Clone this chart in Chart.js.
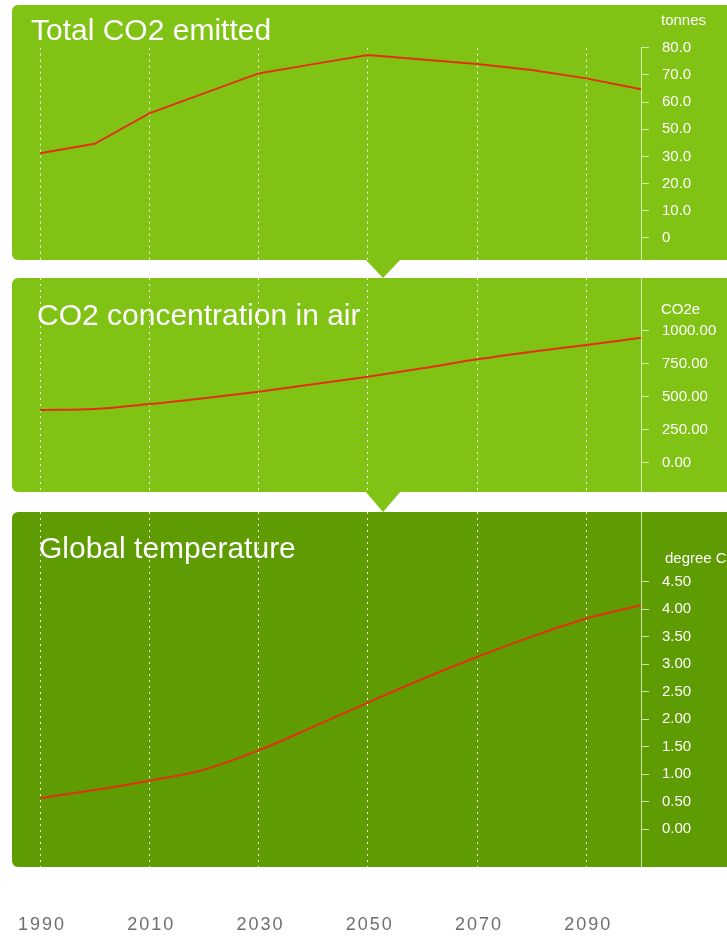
<!DOCTYPE html>
<html>
<head>
<meta charset="utf-8">
<title>CO2 and temperature</title>
<script src="https://cdn.jsdelivr.net/npm/chart.js@4/dist/chart.umd.min.js"></script>
<style>
  html, body { margin: 0; padding: 0; background: #fff; overflow: hidden; }
  #stage { position: relative; width: 727px; height: 936px; overflow: hidden;
           font-family: "Liberation Sans", Arial, Helvetica, sans-serif; }
  .panel { position: absolute; left: 12px; width: 760px; border-radius: 6px; }
  .light { background: #81c315; }
  .dark  { background: #5f9b03; }
  .tip   { position: absolute; left: 365px; width: 36px;
           clip-path: polygon(0 0, 100% 0, 50% 100%); }
  .title { position: absolute; color: #fff; font-size: 30px; line-height: 30px; white-space: nowrap; }
  .unit  { position: absolute; color: #fff; font-size: 15px; line-height: 15px; white-space: nowrap; }
  .box   { position: absolute; left: 0; width: 727px; }
  .box canvas { display: block; }
</style>
</head>
<body>
<div id="stage">
  <div class="panel light" style="top:5px;height:255px"></div>
  <div class="tip light" style="top:259px;height:19px"></div>
  <div class="panel light" style="top:278px;height:214px"></div>
  <div class="tip light" style="top:491px;height:21px"></div>
  <div class="panel dark" style="top:512px;height:355px"></div>

  <div class="box" style="top:5px;height:255px"><canvas id="emitted" width="727" height="255"></canvas></div>
  <div class="box" style="top:278px;height:214px"><canvas id="concentration" width="727" height="214"></canvas></div>
  <div class="box" style="top:512px;height:355px"><canvas id="temperature" width="727" height="355"></canvas></div>
  <div class="box" style="top:867px;height:69px"><canvas id="years" width="727" height="69"></canvas></div>

  <div class="title" style="left:31px;top:15px">Total CO2 emitted</div>
  <div class="title" style="left:37px;top:300px">CO2 concentration in air</div>
  <div class="title" style="left:39px;top:533px">Global temperature</div>

  <div class="unit" style="left:661px;top:12px">tonnes</div>
  <div class="unit" style="left:661px;top:301px">CO2e</div>
  <div class="unit" style="left:665px;top:550px">degree C</div>
</div>

<script>
// Decade samples shared by all three series
const years = [1990, 2000, 2010, 2020, 2030, 2040, 2050, 2060, 2070, 2080, 2090, 2100];

// Total CO2 emitted (tonnes)
const emittedValues = [35.6, 39.6, 52.4, 60.8, 69.2, 73.1, 76.9, 75.0, 73.1, 70.6, 67.1, 62.5];
// CO2 concentration in air (CO2e)
const concentrationValues = [400, 408, 445, 490, 539, 595, 653, 717, 785, 843, 894, 949];
// Global temperature (degree C)
const temperatureValues = [0.56, 0.71, 0.88, 1.08, 1.43, 1.86, 2.30, 2.73, 3.13, 3.50, 3.83, 4.07];

// Vertical guide years and the year labels under the panels
const gridYears = [1990, 2010, 2030, 2050, 2070, 2090];
const yearLabels = ['1990', '2010', '2030', '2050', '2070', '2090'];

// Right-hand axis ticks
const emittedTickLabels = ['0', '10.0', '20.0', '30.0', '50.0', '60.0', '70.0', '80.0'];
const emittedTickValues = emittedTickLabels.map((_, i) => i * 80 / (emittedTickLabels.length - 1));
const concentrationTickValues = [0, 250, 500, 750, 1000];
const concentrationTickLabels = ['0.00', '250.00', '500.00', '750.00', '1000.00'];
const temperatureTickValues = [0, 0.5, 1, 1.5, 2, 2.5, 3, 3.5, 4, 4.5];
const temperatureTickLabels = ['0.00', '0.50', '1.00', '1.50', '2.00', '2.50', '3.00', '3.50', '4.00', '4.50'];

const FONT = '"Liberation Sans", Arial, Helvetica, sans-serif';
const LINE = '#e2310f';
const AXIS = 'rgba(228,242,205,0.85)';
const GRID = 'rgba(255,255,255,0.92)';

Chart.defaults.font.family = FONT;

function panelChart(id, values, o) {
  return new Chart(document.getElementById(id), {
    type: 'line',
    data: {
      datasets: [{
        data: years.map((yr, i) => ({ x: yr, y: values[i] })),
        borderColor: LINE,
        borderWidth: 2,
        pointRadius: 0,
        fill: false,
        tension: o.tension,
        cubicInterpolationMode: o.mode,
        clip: 4
      }]
    },
    options: {
      responsive: false,
      animation: false,
      events: [],
      plugins: { legend: { display: false }, tooltip: { enabled: false } },
      layout: { padding: { left: 40, top: o.top, right: 0, bottom: 0 } },
      scales: {
        x: {
          type: 'linear', min: 1990, max: 2100,
          afterBuildTicks: s => { s.ticks = gridYears.map(v => ({ value: v })); },
          ticks: { display: false },
          grid: { color: GRID, lineWidth: 1, drawTicks: false },
          border: { display: false, dash: [2, 4] },
          afterFit: s => { s.height = 0; s.paddingLeft = 0; s.paddingRight = 0; }
        },
        y: {
          type: 'linear', position: 'right', min: o.min, max: o.max,
          afterBuildTicks: s => { s.ticks = o.tickValues.map(v => ({ value: v })); },
          ticks: {
            color: '#ffffff', font: { size: 15 }, padding: 13,
            callback: (v, i) => o.tickLabels[i]
          },
          grid: { drawOnChartArea: false, drawTicks: true, tickLength: 8, color: AXIS },
          border: { display: true, color: AXIS, width: 1 },
          afterFit: s => { s.width = 86; s.paddingTop = 0; s.paddingBottom = 0; }
        }
      }
    }
  });
}

panelChart('emitted', emittedValues, {
  top: 42.7, min: -9.25, max: 80, tension: 0, mode: 'default',
  tickValues: emittedTickValues, tickLabels: emittedTickLabels
});
panelChart('concentration', concentrationValues, {
  top: 0, min: -222.5, max: 1402.4, tension: 0.4, mode: 'monotone',
  tickValues: concentrationTickValues, tickLabels: concentrationTickLabels
});
panelChart('temperature', temperatureValues, {
  top: 0, min: -0.691, max: 5.768, tension: 0.4, mode: 'monotone',
  tickValues: temperatureTickValues, tickLabels: temperatureTickLabels
});

// Shared year axis under the panels (nudged right to balance the letter spacing)
new Chart(document.getElementById('years'), {
  type: 'line',
  data: { datasets: [] },
  options: {
    responsive: false,
    animation: false,
    events: [],
    plugins: { legend: { display: false }, tooltip: { enabled: false } },
    layout: { padding: { left: 42, right: 84, top: 0, bottom: 0 } },
    scales: {
      x: {
        type: 'linear', position: 'bottom', min: 1990, max: 2100,
        afterBuildTicks: s => { s.ticks = gridYears.map(v => ({ value: v })); },
        ticks: {
          color: '#6e6e6e', font: { size: 18 }, padding: 30,
          autoSkip: false, maxRotation: 0,
          callback: (v, i) => yearLabels[i]
        },
        grid: { display: false },
        border: { display: false },
        afterFit: s => { s.height = 60; s.paddingLeft = 0; s.paddingRight = 0; }
      },
      y: { display: false }
    }
  },
  plugins: [{
    id: 'yearSpacing',
    beforeDraw(chart) { chart.ctx.letterSpacing = '2px'; }
  }]
});
</script>
</body>
</html>
